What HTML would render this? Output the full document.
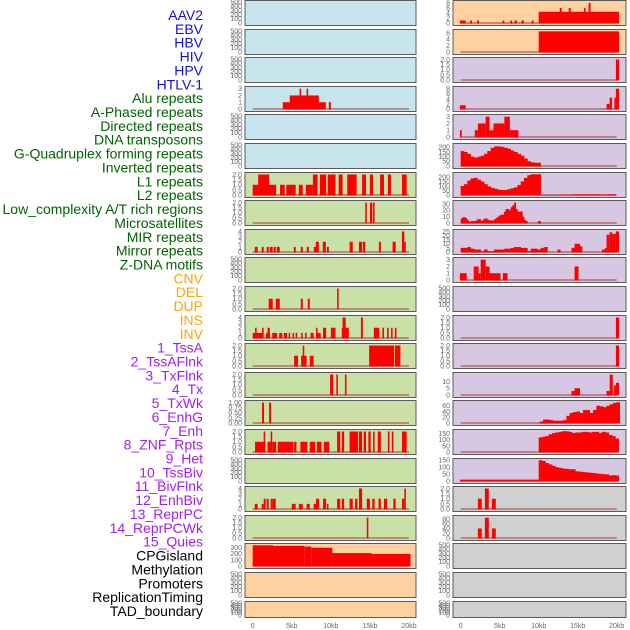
<!DOCTYPE html>
<html><head><meta charset="utf-8"><style>
body{margin:0;background:#fff;}
svg{display:block;font-family:"Liberation Sans",sans-serif;}
</style></head><body>
<svg id="chart" width="630" height="630" viewBox="0 0 630 630"></svg>
<script>
// ---------- DATA ----------
const rowLabels = ["AAV2","EBV","HBV","HIV","HPV","HTLV-1","Alu repeats","A-Phased repeats","Directed repeats","DNA transposons","G-Quadruplex forming repeats","Inverted repeats","L1 repeats","L2 repeats","Low_complexity A/T rich regions","Microsatellites","MIR repeats","Mirror repeats","Z-DNA motifs","CNV","DEL","DUP","INS","INV","1_TssA","2_TssAFlnk","3_TxFlnk","4_Tx","5_TxWk","6_EnhG","7_Enh","8_ZNF_Rpts","9_Het","10_TssBiv","11_BivFlnk","12_EnhBiv","13_ReprPC","14_ReprPCWk","15_Quies","CPGisland","Methylation","Promoters","ReplicationTiming","TAD_boundary"];
const labelGroups = [6,13,5,15,5];
const groupColors = ["#1010e0","#006400","#ffa500","#a020f0","#000000"];
const xTicks = [0,5,10,15,20];
const xTickLabels = ["0","5kb","10kb","15kb","20kb"];
const emptyTicks = ["0","100","200","300","400","500"];
const t2 = ["0.0","0.5","1.0","1.5","2.0"];
const t4 = ["0","1","2","3","4"];
const t3 = ["0","1","2","3"];

// left column segments [startKb, endKb, value]
const L3 = [[3.85,9.36,1],[4.74,8.46,2],[6.0,6.2,3],[6.9,7.1,3],[9.74,10.0,1]];
const L6 = [[0,3.0,1],[0.7,2.1,2],[3.5,4.1,1],[4.3,5.5,1],[5.9,6.4,1],[6.8,7.7,1],[7.7,8.3,2],[8.6,9.4,2],[9.6,10.6,2],[11.0,11.5,2],[12.1,13.3,2],[14.0,14.5,2],[15.0,15.4,2],[16.3,16.8,2],[17.3,17.7,2],[19.1,19.7,2]];
const L7 = [[14.4,14.6,2],[15.0,15.3,2],[15.4,15.6,2]];
const L8 = [[0.26,0.64,1],[1.15,1.41,1],[1.79,2.05,1],[2.18,2.56,1],[2.69,2.95,1],[3.08,3.46,1],[5.26,5.51,1],[6.15,6.41,1],[6.92,7.18,1],[7.82,8.2,1],[8.08,8.46,2],[8.97,9.36,2],[9.49,9.74,1],[12.4,12.8,2],[13.6,14.0,2],[14.1,14.4,2],[16.15,16.4,2],[17.9,18.3,2],[19.1,19.4,4],[19.4,19.6,2]];
const L10 = [[2.05,2.56,1],[2.95,3.46,1],[6.15,6.41,1],[7.05,7.3,1],[10.8,11.0,2]];
const L11 = [[0,1.3,1],[0.3,0.5,2],[1.2,1.4,2],[1.7,2.2,1],[1.9,2.2,2],[2.5,3.1,1],[3.4,3.8,1],[4.0,4.4,1],[4.6,4.8,1],[5.1,5.3,1],[5.5,5.7,1],[6.2,6.4,1],[6.7,6.9,1],[7.4,7.8,1],[8.1,8.3,2],[8.3,8.7,1],[9.0,9.4,2],[10.0,10.6,2],[11.4,12.3,2],[11.5,11.9,4],[13.85,14.1,4],[15.5,16.2,2],[16.6,16.8,2],[17.2,17.4,2],[17.7,17.9,2],[18.2,18.4,2]];
const L12 = [[5.3,5.8,1],[6.2,6.9,1],[6.4,6.6,2],[7.3,7.8,1],[14.9,18.1,2],[18.2,18.9,2]];
const L13 = [[9.9,10.3,2],[10.7,10.9,2],[11.8,12.0,2]];
const L14 = [[1.2,1.45,1],[2.1,2.35,1]];
const L15 = [[0.3,1.6,1],[1.4,1.6,2],[1.9,2.4,1],[2.3,2.5,2],[2.5,3.0,1],[3.2,5.2,1],[5.3,5.6,1],[6.1,7.0,1],[7.3,8.0,1],[8.2,8.8,1],[9.1,9.8,1],[10.8,11.2,2],[11.4,11.7,2],[12.4,13.5,2],[13.6,14.0,2],[14.2,14.5,2],[14.8,15.1,2],[15.4,15.6,2],[16.0,16.4,2],[17.3,17.5,2],[17.8,18.0,2],[19.1,19.7,2]];
const L17 = [[0.26,0.64,1],[1.15,1.41,1],[1.41,1.67,2],[1.79,2.05,2],[2.3,2.56,2],[2.56,2.95,2],[5.0,5.5,1],[5.9,6.4,1],[6.9,7.3,1],[7.8,8.2,1],[8.1,8.5,2],[9.0,9.4,2],[9.5,9.7,1],[10.8,11.2,2],[11.4,11.7,2],[12.4,12.8,2],[13.1,13.4,2],[13.6,14.0,4],[14.6,15.0,2],[15.3,15.6,2],[16.1,16.4,2],[16.8,17.2,2],[18.0,18.3,2],[19.1,19.4,2],[19.4,19.6,4]];
const L18 = [[14.6,14.8,2]];
const L19 = [[0,2.6,340],[2.6,6.6,330],[6.6,7.5,320],[7.5,10.2,300],[10.2,15.2,212],[15.2,20.2,198]];

// right column
const R0 = [[-0.1,0.64,1],[1.2,1.45,1],[2.1,2.35,1],[5.35,5.6,1],[6.35,6.6,1],[6.9,7.2,1],[7.8,8.1,1],[9.1,9.35,1],[10.0,20.3,4.5],[12.7,12.95,6],[13.85,14.1,6],[15.8,16.0,6],[16.4,16.65,8]];
const R1 = [[10.0,20.3,6.5]];
const R2 = [[19.9,20.3,2]];
const R3 = [[-0.1,0.64,1.5],[18.7,19.1,2],[19.1,19.4,4.5],[19.7,19.9,4.5],[19.9,20.3,8]];
const R4 = [[-0.1,0.13,1],[1.8,2.3,1],[2.2,3.2,2],[3.2,3.7,3],[3.7,4.2,1],[4.2,5.6,2],[5.6,6.3,3],[6.3,7.4,1]];
const R5curve = [160,150,130,100,90,100,110,130,160,195,210,210,205,195,185,165,150,130,110,80,50,40,35,35];
const R6curve = [100,120,160,185,190,170,150,120,95,80,70,60,55,55,65,75,85,110,150,190,220,230,230,230];
const R6 = [[10.3,12.6,1],[12.6,14.4,4],[14.4,17.8,8],[17.8,19.0,6],[19.0,19.9,9]];
const R7curve = [7,9,9,7,4,2,3,3,3,4,6,6,3,5,7,7,5,4,4,4,6,8,10,12,13,13,18,22,22,20,25,28,32,22,18,18,18,10,5,3];
const R7 = [[9.9,10.3,3]];
const R8curve = [5,5,6,4,3,3,1,3,1,1,3,3,3,4,4,5,6,6,5,5,1,4,4,3,5,6];
const R8 = [[12.4,12.8,3],[14.2,14.6,5],[14.6,15.3,10],[15.3,15.6,7],[18.1,18.5,3],[18.5,18.7,5],[18.7,19.1,21],[19.1,19.4,24],[19.4,19.9,22],[19.9,20.3,25]];
const R9 = [[-0.1,0.77,1],[1.67,2.3,2],[2.3,2.56,1],[2.56,3.2,3],[3.2,3.7,2],[3.7,5.1,1],[5.4,6.0,1],[14.6,15.1,2]];
const R11 = [[19.9,20.3,2]];
const R12 = [[19.9,20.3,2]];
const R13 = [[14.2,14.6,3],[14.6,15.3,5],[18.7,19.1,3],[19.1,19.5,15],[19.6,19.9,7],[19.9,20.3,9]];
const R14curve = [5,12,12,10,8,8,8,10,25,35,38,40,35,45,45,35,45,60,58,55,60,65,70,72];
const R15curve = [120,125,130,145,155,160,165,170,170,165,155,160,160,165,165,160,165,165,155,165,160,140,130,110];
const R16 = [[-0.1,10.0,10]];
const R16curve = [150,145,130,120,110,100,95,90,88,85,85,70,68,65,62,60,58,55,52,50,48,40,42,40];
const R17 = [[2.2,2.7,1],[3.1,3.6,2],[4.0,4.5,1]];
const R18 = [[2.2,2.7,40],[3.1,3.6,85],[4.0,4.5,40]];

// ---------- PANEL CONFIG ----------
const BLUE="#c8e4ec", GREEN="#c9e1a6", ORANGE="#ffd1a0", PURPLE="#d7c7e3", GRAY="#d0d0d0";
const E = {ymax:500,ticks:emptyTicks,segs:null};
const leftPanels = [
 Object.assign({bg:BLUE},E),Object.assign({bg:BLUE},E),Object.assign({bg:BLUE},E),
 {bg:BLUE,ymax:3.1,ticks:t3,segs:L3},
 Object.assign({bg:BLUE},E),Object.assign({bg:BLUE},E),
 {bg:GREEN,ymax:2.05,ticks:t2,segs:L6},
 {bg:GREEN,ymax:2.05,ticks:t2,segs:L7},
 {bg:GREEN,ymax:4.1,ticks:t4,segs:L8},
 Object.assign({bg:GREEN},E),
 {bg:GREEN,ymax:2.05,ticks:t2,segs:L10},
 {bg:GREEN,ymax:4.1,ticks:t4,segs:L11},
 {bg:GREEN,ymax:2.05,ticks:t2,segs:L12},
 {bg:GREEN,ymax:2.05,ticks:t2,segs:L13},
 {bg:GREEN,ymax:1.03,ticks:["0.00","0.25","0.50","0.75","1.00"],segs:L14},
 {bg:GREEN,ymax:2.05,ticks:t2,segs:L15},
 Object.assign({bg:GREEN},E),
 {bg:GREEN,ymax:4.1,ticks:t4,segs:L17},
 {bg:GREEN,ymax:2.05,ticks:t2,segs:L18},
 {bg:ORANGE,ymax:345,ticks:["0","100","200","300"],segs:L19},
 Object.assign({bg:ORANGE},E),Object.assign({bg:ORANGE},E)
];
const rightPanels = [
 {bg:ORANGE,ymax:8.4,ticks:["0","2","4","6","8"],segs:R0},
 {bg:ORANGE,ymax:6.6,ticks:["0","2","4","6"],segs:R1},
 {bg:PURPLE,ymax:2.05,ticks:t2,segs:R2},
 {bg:PURPLE,ymax:8.3,ticks:["0","2","4","6","8"],segs:R3},
 {bg:PURPLE,ymax:3.1,ticks:t3,segs:R4},
 {bg:PURPLE,ymax:225,ticks:["0","50","100","150","200"],segs:[],curve:{start:0,step:0.4274,vals:R5curve}},
 {bg:PURPLE,ymax:233,ticks:["0","50","100","150","200"],segs:R6,curve:{start:0,step:0.4274,vals:R6curve}},
 {bg:PURPLE,ymax:33,ticks:["0","10","20","30"],segs:R7,curve:{start:0,step:0.2137,vals:R7curve}},
 {bg:PURPLE,ymax:25.5,ticks:["0","5","10","15","20","25"],segs:R8,curve:{start:0,step:0.4274,vals:R8curve}},
 {bg:PURPLE,ymax:3.1,ticks:t3,segs:R9},
 Object.assign({bg:PURPLE},E),
 {bg:PURPLE,ymax:2.05,ticks:t2,segs:R11},
 {bg:PURPLE,ymax:2.05,ticks:t2,segs:R12},
 {bg:PURPLE,ymax:15.5,ticks:["0","5","10"],segs:R13},
 {bg:PURPLE,ymax:73,ticks:["0","20","40","60"],segs:[],curve:{start:10.13,step:0.4274,vals:R14curve}},
 {bg:PURPLE,ymax:172,ticks:["0","50","100","150"],segs:[],curve:{start:10.0,step:0.4274,vals:R15curve}},
 {bg:PURPLE,ymax:152,ticks:["0","50","100","150"],segs:R16,curve:{start:10.0,step:0.4274,vals:R16curve}},
 {bg:GRAY,ymax:2.05,ticks:t2,segs:R17},
 {bg:GRAY,ymax:88,ticks:["0","20","40","60","80"],segs:R18},
 Object.assign({bg:GRAY},E),Object.assign({bg:GRAY},E),Object.assign({bg:GRAY},E)
];

// ---------- DRAW ----------
const NS="http://www.w3.org/2000/svg";
const svg=document.getElementById("chart");
function mk(tag,attrs,parent){const e=document.createElementNS(NS,tag);for(const k in attrs)e.setAttribute(k,attrs[k]);(parent||svg).appendChild(e);return e;}

let gi=0,cnt=0;
rowLabels.forEach((lab,i)=>{
  if(cnt>=labelGroups[gi]){gi++;cnt=0;}
  cnt++;
  const t=mk("text",{x:203,y:15+i*13.86+5,"text-anchor":"end","font-size":"14",fill:groupColors[gi]});
  
  
  t.textContent=lab;
});

const cols=[{x0:245,x1:416,k0:252.7,k20:409,panels:leftPanels,name:'left'},{x0:453,x1:626,k0:460.7,k20:616.7,panels:rightPanels,name:'right'}];
cols.forEach(col=>{
  const xs=kb=>col.k0+(col.k20-col.k0)*kb/20;
  col.panels.forEach((p,i)=>{
    const top=Math.round(i*28.6)+0.5;
    const h=(i===21)?16:25;
    const bot=top+h;
    const g=mk("g",{});
    
    
    mk("rect",{x:col.x0,y:top,width:col.x1-col.x0,height:h,fill:p.bg,stroke:"#5a5a5a","stroke-width":1},g);
    const y0=bot-2.5, y1=top+1.5;
    const ys=v=>y0-(y0-y1)*Math.min(v,p.ymax)/p.ymax;
    p.ticks.forEach(tk=>{
      const t=mk("text",{x:col.x0-3,y:ys(parseFloat(tk))+2.4,"text-anchor":"end","font-size":"7",fill:"#666"},g);
      
      
      t.textContent=tk;
    });
    const hasData=p.segs!==null;
    if(hasData){
      mk("line",{x1:xs(0),x2:xs(20),y1:y0,y2:y0,stroke:"#b05050","stroke-width":1.6,"stroke-opacity":0.8},g);
    }
    if(p.curve){
      p.curve.vals.forEach((v,j)=>{
        const s=p.curve.start+j*p.curve.step;
        const r=mk("rect",{x:xs(s),y:ys(v),width:xs(s+p.curve.step)-xs(s)+0.3,height:y0-ys(v)+0.5,fill:"#ff0000"},g);
        
        
      });
    }
    (p.segs||[]).forEach(sg=>{
      const r=mk("rect",{x:xs(sg[0]),y:ys(sg[2]),width:Math.max(1.2,xs(sg[1])-xs(sg[0])),height:y0-ys(sg[2])+0.5,fill:"#ff0000"},g);
      
      
    });
  });
  xTicks.forEach((kb,j)=>{
    const t=mk("text",{x:xs(kb),y:628,"text-anchor":"middle","font-size":"7",fill:"#666"});
    
    
    t.textContent=xTickLabels[j];
  });
});
</script>
</body></html>
